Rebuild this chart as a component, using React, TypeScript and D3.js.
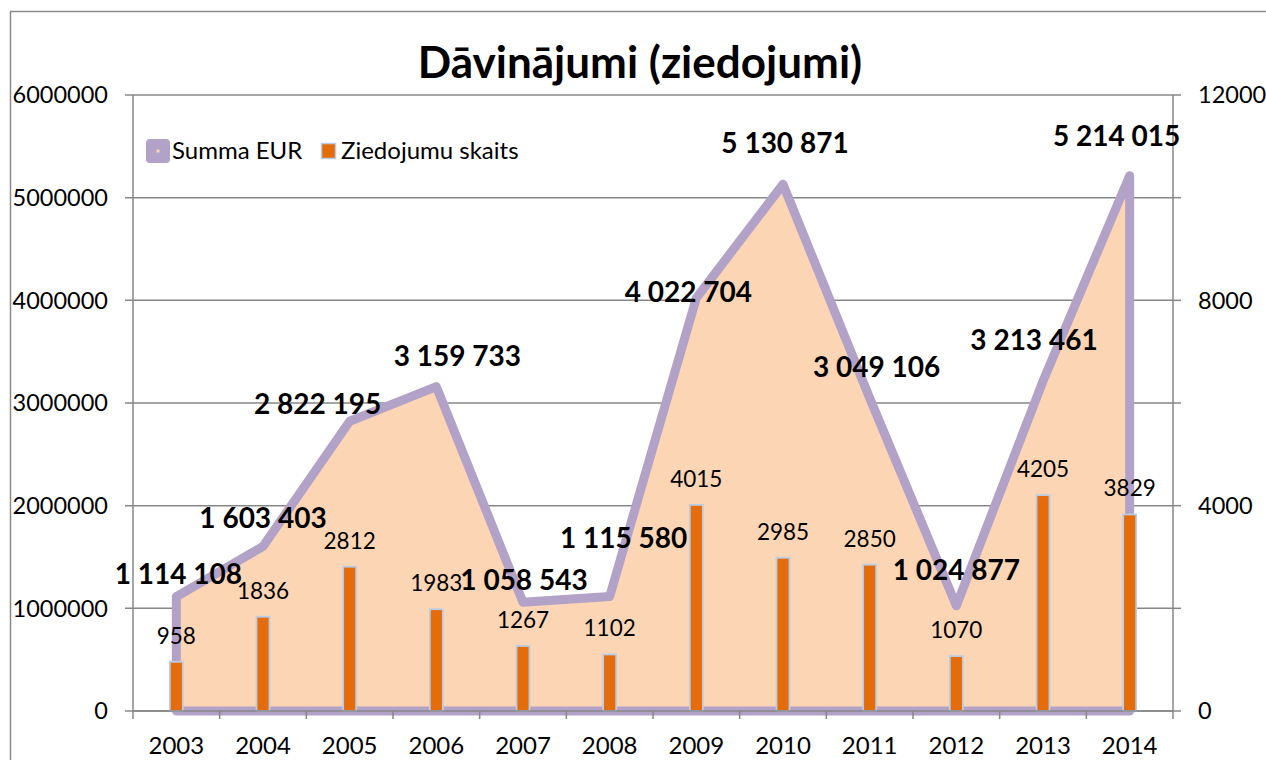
import React from "react";
import * as d3 from "d3";

const years = ["2003","2004","2005","2006","2007","2008","2009","2010","2011","2012","2013","2014"];
const summaEUR = [1114108,1603403,2822195,3159733,1058543,1115580,4022704,5130871,3049106,1024877,3213461,5214015];
const ziedojumuSkaits = [958,1836,2812,1983,1267,1102,4015,2985,2850,1070,4205,3829];
const leftTicks = [0,1000000,2000000,3000000,4000000,5000000,6000000];
const rightTicks = [0,2000,4000,6000,8000,10000,12000];
const rightTickLabels = [0,4000,8000,12000];
// label offsets (px) relative to each point of the Summa EUR area
const sumLabelOffsets: [number, number][] = [
  [2,-22],[0,-28],[-32,-17],[21,-30],[1,-22],[14,-58],[-8,-6],[2,-41],[7,-31],[0,-36],[-9,-41],[-13,-39]
];

const fmt = (v: number) => d3.format(",")(v).replace(/,/g, " ");

export default function App() {
  const W = 1266, H = 760;
  const left = 133, right = 1173, top = 95, bottom = 711;
  const x = d3.scaleBand<string>().domain(years).range([left, right]).padding(0);
  const cx = (y: string) => (x(y) as number) + x.bandwidth() / 2;
  const yL = d3.scaleLinear().domain([0, 6000000]).range([bottom, top]);
  const yR = d3.scaleLinear().domain([0, 12000]).range([bottom, top]);

  const areaGen = d3.area<number>()
    .x((_, i) => cx(years[i]))
    .y0(yL(0))
    .y1((d) => yL(d));
  const areaPath = (areaGen(summaEUR) as string);

  const barW = 13;
  const font = "Lato, 'Open Sans', sans-serif";
  const grid = "#878787";

  return (
    <svg width={W} height={H} style={{ position: "absolute", left: 0, top: 0, background: "#fff" }} fontFamily={font}>
      <rect x={10.5} y={11.5} width={1400} height={900} fill="#fff" stroke="#8a8a8a" strokeWidth={1.5} />
      <text x={640} y={78} textAnchor="middle" fontSize={44} fontWeight="bold" fill="#000">Dāvinājumi (ziedojumi)</text>

      {leftTicks.map((t) => (
        <g key={"gl" + t}>
          <line x1={left - 8} x2={right} y1={yL(t)} y2={yL(t)} stroke={grid} strokeWidth={1.5} />
          <text x={108} y={yL(t)} dy="0.35em" textAnchor="end" fontSize={23.5} fill="#000">{t}</text>
        </g>
      ))}

      <path d={areaPath} fill="#fcd5b5" stroke="#b3a2c7" strokeWidth={9} strokeLinejoin="round" />

      {ziedojumuSkaits.map((v, i) => (
        <g key={"b" + i}>
          <rect x={cx(years[i]) - barW / 2} y={yR(v)} width={barW} height={yR(0) - yR(v)} fill="#e46c0a" stroke="#b9cde5" strokeWidth={1.8} />
          <text x={cx(years[i])} y={yR(v) - 26} dy="0.35em" textAnchor="middle" fontSize={22.5} fill="#000">{v}</text>
        </g>
      ))}

      <line x1={left} x2={left} y1={top} y2={bottom} stroke={grid} strokeWidth={1.5} />
      <line x1={right} x2={right} y1={top} y2={bottom} stroke={grid} strokeWidth={1.5} />
      <line x1={left} x2={right} y1={bottom} y2={bottom} stroke={grid} strokeWidth={1.5} />
      {rightTicks.map((t) => (
        <line key={"rt" + t} x1={right} x2={right + 8} y1={yR(t)} y2={yR(t)} stroke={grid} strokeWidth={1.5} />
      ))}
      {rightTickLabels.map((t) => (
        <text key={"rl" + t} x={1198} y={yR(t)} dy="0.35em" fontSize={23.5} fill="#000">{t}</text>
      ))}
      {years.concat(["end"]).map((y, i) => {
        const xx = left + i * x.bandwidth();
        return <line key={"xt" + i} x1={xx} x2={xx} y1={bottom} y2={bottom + 8} stroke={grid} strokeWidth={1.5} />;
      })}
      {years.map((y) => (
        <text key={"xl" + y} x={cx(y)} y={754} textAnchor="middle" fontSize={24} fill="#000">{y}</text>
      ))}

      {summaEUR.map((v, i) => (
        <text key={"sl" + i} x={cx(years[i]) + sumLabelOffsets[i][0]} y={yL(v) + sumLabelOffsets[i][1]} dy="0.35em"
          textAnchor="middle" fontSize={28} fontWeight="bold" fill="#000">{fmt(v)}</text>
      ))}

      <g>
        <rect x={146} y={139} width={24} height={24} rx={4} fill="#b3a2c7" />
        <rect x={156.5} y={149.5} width={3} height={3} fill="#fcd5b5" />
        <text x={172} y={151} dy="0.35em" fontSize={24} fill="#000">Summa EUR</text>
        <rect x={321.5} y={143.5} width={14} height={15} fill="#e46c0a" stroke="#b9cde5" strokeWidth={1.5} />
        <text x={341} y={151} dy="0.35em" fontSize={24} fill="#000">Ziedojumu skaits</text>
      </g>
    </svg>
  );
}
